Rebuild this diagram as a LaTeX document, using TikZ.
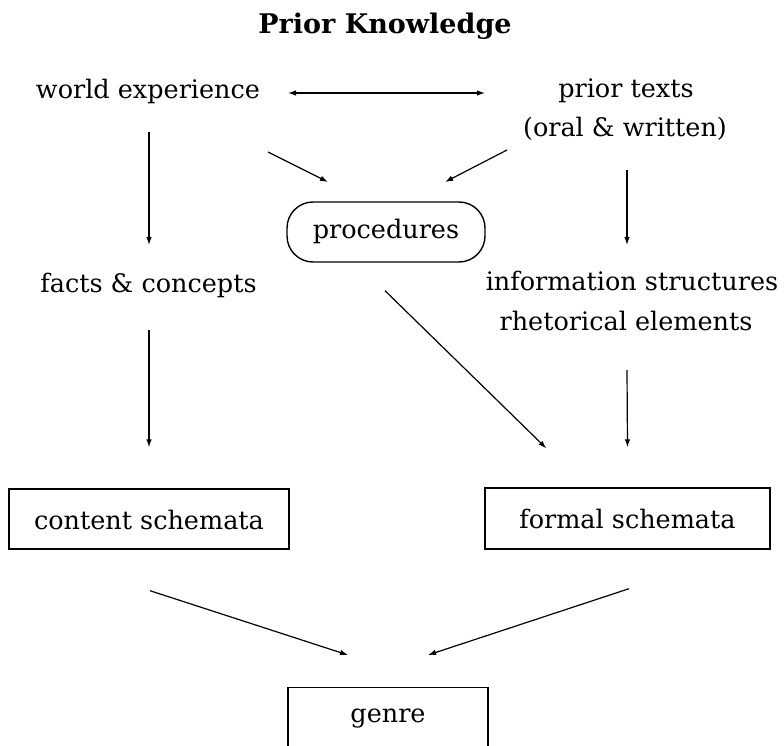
\documentclass[tikz,border=0pt]{standalone}
\usepackage{fontspec}
\setmainfont{DejaVu Serif}
\usetikzlibrary{arrows.meta,calc}
\begin{document}
\begin{tikzpicture}[x=1pt,y=-1pt,
  every node/.style={font=\fontsize{25.5}{30}\selectfont},
  lbl/.style={inner sep=0pt, anchor=base, text height=18pt, text depth=6pt},
  box/.style={draw, line width=1.4pt, inner sep=0pt, text height=20pt, text depth=0pt},
  arr/.style={line width=1.2pt, -{Latex[length=8pt,width=5.5pt]}},
  dbl/.style={line width=1.2pt, {Latex[length=8pt,width=5.5pt]}-{Latex[length=8pt,width=5.5pt]}}
]
\useasboundingbox (0,0) rectangle (784,746);

% title
\node[lbl, font=\fontsize{27}{32}\selectfont\bfseries] (title) at (385,34) {Prior Knowledge};

% upper row
\node[lbl] (we)  at (148,99)  {world experience};
\node[lbl] (pt1) at (626,98)  {prior texts};
\node[lbl] (pt2) at (625,137) {(oral \& written)};

% procedures
\node[draw, line width=1.4pt, rounded corners=26pt, inner sep=0pt,
      minimum width=198pt, minimum height=60pt, text height=18pt, text depth=6pt]
      (proc) at (386,232) {procedures};

% middle row
\node[lbl] (fc)  at (148.5,292) {facts \& concepts};
\node[lbl] (is1) at (632,290)   {information structures};
\node[lbl] (re)  at (626,330)   {rhetorical elements};

% schemata boxes
\node[box, minimum width=280pt, minimum height=60pt] (cs) at (149,519) {content schemata};
\node[box, minimum width=285pt, minimum height=61pt] (fs) at (627.5,518.5) {formal schemata};

% genre box, open at the bottom edge
\node[draw, line width=1.4pt, inner sep=0pt, anchor=north, minimum width=200pt,
      text height=35pt, text depth=40pt] (genre) at (388,687) {genre};

% arrow targets near the boxes
\coordinate (pin1) at ($(proc.center)+(-58,-50)$);
\coordinate (pin2) at ($(proc.center)+(59,-50)$);
\coordinate (fsin) at ($(fs.north west)+(62,-39)$);
\coordinate (gin1) at ($(genre.north)+(-40,-32)$);
\coordinate (gin2) at ($(genre.north)+(40,-32)$);

% connectors
\draw[dbl] ($(we.base)+(140,-6)$) -- ($(pt1.base)+(-141,-5)$);
\draw[arr] ($(we.base)+(1,33)$) -- ($(fc.base)+(0.5,-47)$);
\draw[arr] ($(we.base)+(120,53)$) -- (pin1);
\draw[arr] ($(pt2.base)+(-118,13)$) -- (pin2);
\draw[arr] ($(pt2.base)+(2,33)$) -- ($(is1.base)+(-5,-45)$);
\draw[arr] ($(fc.base)+(0.5,38)$) -- ($(cs.north)+(0,-41)$);
\draw[arr] ($(re.base)+(1,40)$) -- ($(fs.north)+(0,-40)$);
\draw[arr] ($(proc.south)+(-1,28)$) -- (fsin);
\draw[arr] ($(cs.south)+(1,41)$) -- (gin1);
\draw[arr] ($(fs.south)+(1.5,39)$) -- (gin2);
\end{tikzpicture}
\end{document}
